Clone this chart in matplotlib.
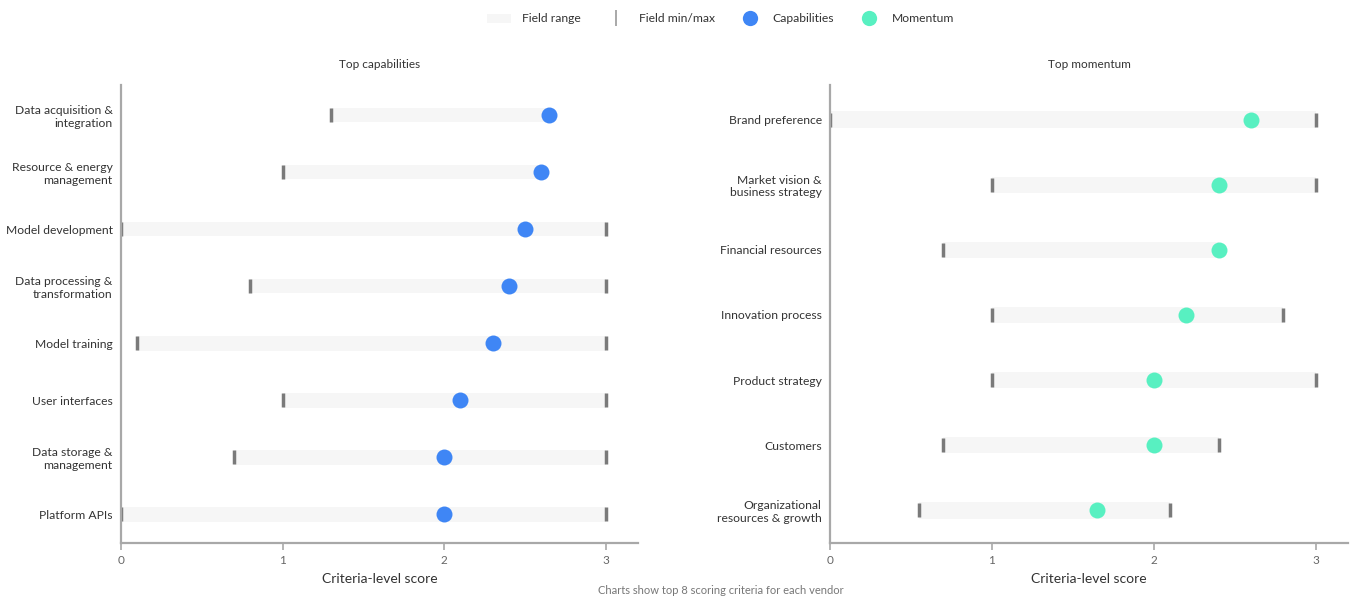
import matplotlib
matplotlib.use("Agg")
import matplotlib.pyplot as plt
from matplotlib.lines import Line2D
from matplotlib.patches import Patch

plt.rcParams['font.family'] = ['Lato', 'DejaVu Sans']

# ---- Data ----
cap_labels = ["Data acquisition &\nintegration", "Resource & energy\nmanagement", "Model development",
              "Data processing &\ntransformation", "Model training", "User interfaces",
              "Data storage &\nmanagement", "Platform APIs"]
cap_min = [1.3, 1.0, 0.0, 0.8, 0.1, 1.0, 0.7, 0.0]
cap_max = [2.65, 2.6, 3.0, 3.0, 3.0, 3.0, 3.0, 3.0]
cap_val = [2.65, 2.6, 2.5, 2.4, 2.3, 2.1, 2.0, 2.0]

mom_labels = ["Brand preference", "Market vision &\nbusiness strategy", "Financial resources",
              "Innovation process", "Product strategy", "Customers",
              "Organizational\nresources & growth"]
mom_min = [0.0, 1.0, 0.7, 1.0, 1.0, 0.7, 0.55]
mom_max = [3.0, 3.0, 2.4, 2.8, 3.0, 2.4, 2.1]
mom_val = [2.6, 2.4, 2.4, 2.2, 2.0, 2.0, 1.65]

x_ticks = [0, 1, 2, 3]

BLUE = "#3f86f5"
TEAL = "#58f0c1"
RANGE = "#f6f6f6"
TICKC = "#7a7a7a"
SPINE = "#a8a8a8"
TXT = "#333333"

fig = plt.figure(figsize=(13.57, 5.97), dpi=100)
ax1 = fig.add_axes([121/1357, 54/597, 517/1357, 458/597])
ax2 = fig.add_axes([830/1357, 54/597, 518/1357, 458/597])


def draw(ax, labels, mins, maxs, vals, color, title):
    n = len(labels)
    ys = list(range(n))
    for y, lo, hi in zip(ys, mins, maxs):
        ax.barh(y, hi - lo, left=lo, height=0.25, color=RANGE, zorder=1)
    ax.plot(mins, ys, linestyle='none', marker='|', markersize=9.5, mew=2.5, color=TICKC, zorder=2)
    ax.plot(maxs, ys, linestyle='none', marker='|', markersize=9.5, mew=2.5, color=TICKC, zorder=2)
    ax.plot(vals, ys, linestyle='none', marker='o', markersize=11.5, color=color, mew=0, zorder=3)
    ax.set_ylim(n - 0.5, -0.53)
    ax.set_xlim(0, 3.2)
    ax.set_yticks(ys)
    ax.set_yticklabels(labels, fontsize=8.7, color=TXT)
    ax.set_xticks(x_ticks)
    ax.set_xticklabels([str(t) for t in x_ticks], fontsize=8.5, color="#666666")
    ax.tick_params(axis='y', length=0, pad=6)
    ax.tick_params(axis='x', length=5, width=1.2, color=SPINE, pad=4)
    for s in ['top', 'right']:
        ax.spines[s].set_visible(False)
    for s in ['left', 'bottom']:
        ax.spines[s].set_color(SPINE)
        ax.spines[s].set_linewidth(1.6)
    ax.set_xlabel("Criteria-level score", fontsize=10, color=TXT, labelpad=5)
    ax.set_title(title, fontsize=8.5, color=TXT, pad=12)


draw(ax1, cap_labels, cap_min, cap_max, cap_val, BLUE, "Top capabilities")
draw(ax2, mom_labels, mom_min, mom_max, mom_val, TEAL, "Top momentum")

handles = [
    Patch(facecolor=RANGE, edgecolor='none'),
    Line2D([], [], linestyle='none', marker='|', markersize=12, mew=1.2, color="#999999"),
    Line2D([], [], linestyle='none', marker='o', markersize=11, color=BLUE, mew=0),
    Line2D([], [], linestyle='none', marker='o', markersize=11, color=TEAL, mew=0),
]
fig.legend(handles, ["Field range", "Field min/max", "Capabilities", "Momentum"],
           loc='center', bbox_to_anchor=(0.531, 1 - 19/597), ncol=4, frameon=False,
           fontsize=8.7, handlelength=2.0, handletextpad=0.9, columnspacing=1.9,
           labelcolor=TXT)

fig.text(0.531, 1 - 591/597, "Charts show top 8 scoring criteria for each vendor",
         ha='center', va='center', fontsize=8, color="#777777")

fig.savefig("out.png", dpi=100)
